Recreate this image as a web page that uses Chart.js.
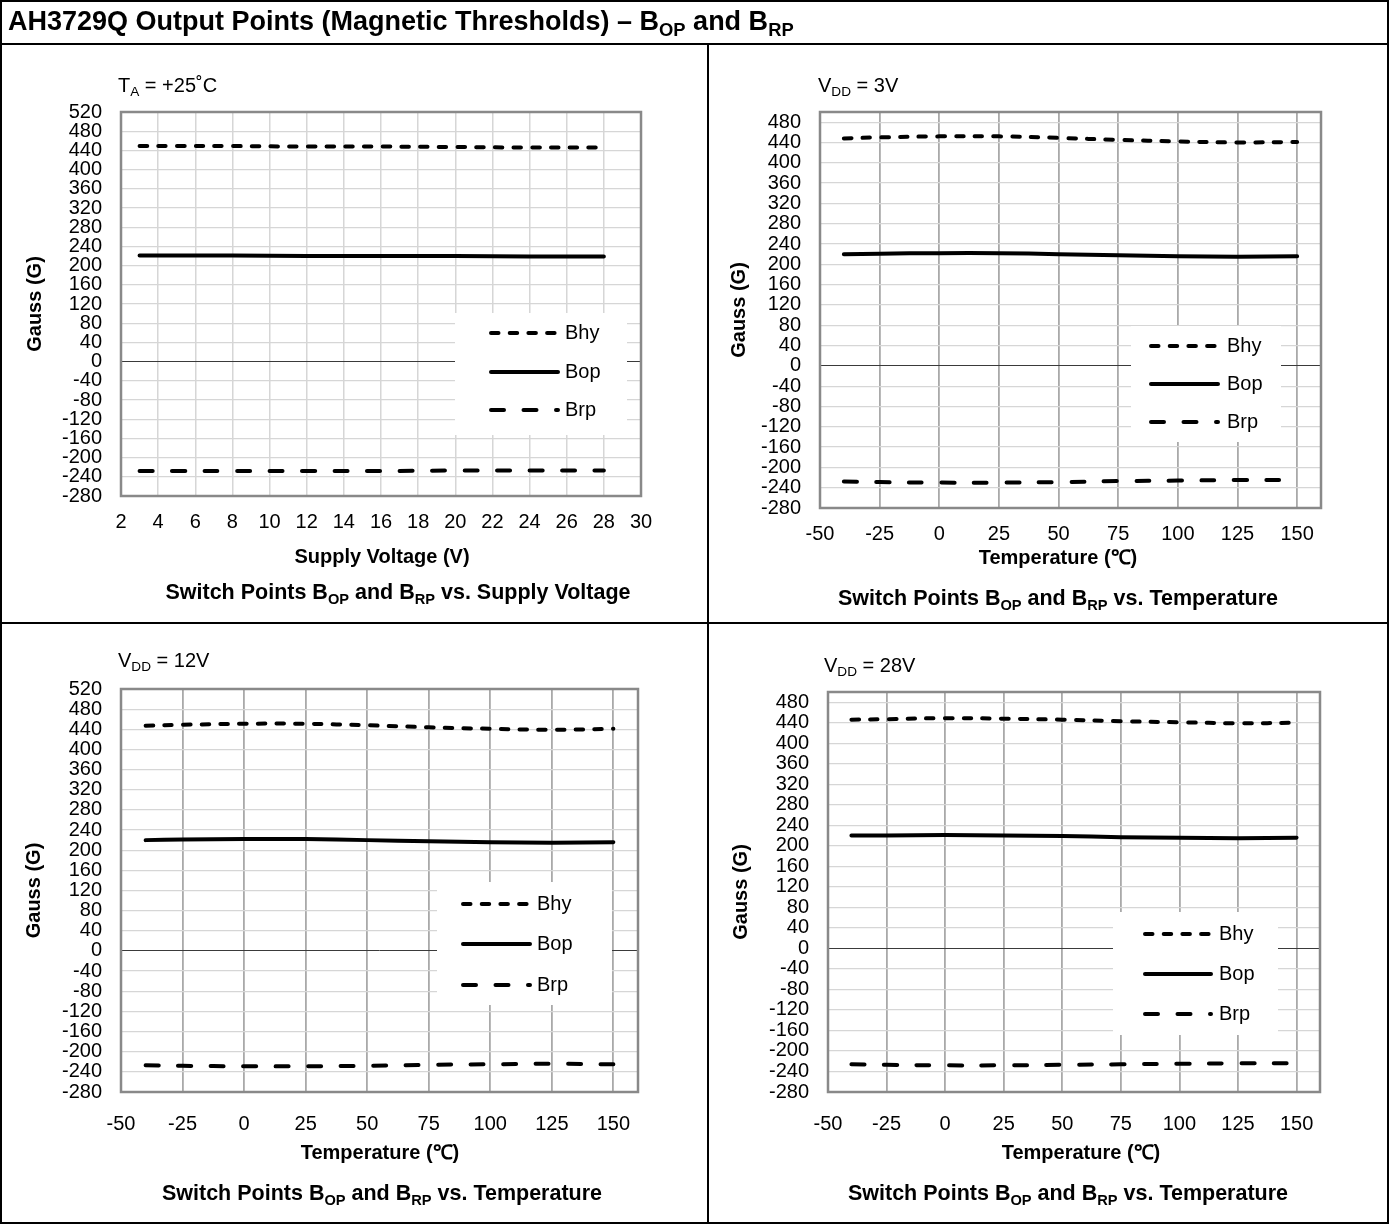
<!DOCTYPE html>
<html><head><meta charset="utf-8">
<script src="https://cdn.jsdelivr.net/npm/chart.js@4/dist/chart.umd.min.js"></script>
<style>
html,body{margin:0;padding:0;background:#fff;}
body{width:1389px;height:1224px;position:relative;overflow:hidden;font-family:"Liberation Sans",Arial,sans-serif;color:#000;}
.ln{position:absolute;background:#000;}
.txt{position:absolute;white-space:nowrap;line-height:1;}
.c{text-align:center;width:700px;}
.b{font-weight:bold;}
.cap{font-size:21.5px;}
sub{font-size:68%;vertical-align:baseline;position:relative;top:0.32em;}
canvas{position:absolute;left:0;top:0;}
</style></head><body>
<canvas id="c1" width="1389" height="1224"></canvas>
<canvas id="c2" width="1389" height="1224"></canvas>
<canvas id="c3" width="1389" height="1224"></canvas>
<canvas id="c4" width="1389" height="1224"></canvas>

<div class="ln" style="left:0;top:0;width:1389px;height:2px"></div>
<div class="ln" style="left:0;top:1222px;width:1389px;height:2px"></div>
<div class="ln" style="left:0;top:0;width:2px;height:1224px"></div>
<div class="ln" style="left:1387px;top:0;width:2px;height:1224px"></div>
<div class="ln" style="left:0;top:43px;width:1389px;height:2px"></div>
<div class="ln" style="left:0;top:622px;width:1389px;height:2px"></div>
<div class="ln" style="left:707px;top:44px;width:2px;height:1180px"></div>

<div class="txt b" style="left:8px;top:8px;font-size:27px">AH3729Q Output Points (Magnetic Thresholds) – B<sub>OP</sub> and B<sub>RP</sub></div>

<div class="txt" style="left:118px;top:75px;font-size:20px">T<sub>A</sub> = +25˚C</div>
<div class="txt" style="left:818px;top:75px;font-size:20px">V<sub>DD</sub> = 3V</div>
<div class="txt" style="left:118px;top:650px;font-size:20px">V<sub>DD</sub> = 12V</div>
<div class="txt" style="left:824px;top:655px;font-size:20px">V<sub>DD</sub> = 28V</div>

<div class="txt b c" style="left:32px;top:546px;font-size:20px">Supply Voltage (V)</div>
<div class="txt b c cap" style="left:48px;top:582px">Switch Points B<sub>OP</sub> and B<sub>RP</sub> vs. Supply Voltage</div>
<div class="txt b c" style="left:708px;top:547px;font-size:20px">Temperature (℃)</div>
<div class="txt b c cap" style="left:708px;top:588px">Switch Points B<sub>OP</sub> and B<sub>RP</sub> vs. Temperature</div>
<div class="txt b c" style="left:30px;top:1142px;font-size:20px">Temperature (℃)</div>
<div class="txt b c cap" style="left:32px;top:1183px">Switch Points B<sub>OP</sub> and B<sub>RP</sub> vs. Temperature</div>
<div class="txt b c" style="left:731px;top:1142px;font-size:20px">Temperature (℃)</div>
<div class="txt b c cap" style="left:718px;top:1183px">Switch Points B<sub>OP</sub> and B<sub>RP</sub> vs. Temperature</div>

<script>
// ---------- data ----------
const seriesNames = ['Bhy', 'Bop', 'Brp'];

// Panel 1: TA = +25°C, vs supply voltage
const voltage = [3, 5, 8, 12, 16, 20, 24, 28];
const p1Bhy = [449, 449, 449, 448, 448, 447, 446, 446];
const p1Bop = [221, 221, 221, 220, 220, 220, 219, 219];
const p1Brp = [-228, -228, -228, -228, -228, -227, -227, -227];

// Panels 2-4: vs temperature
const temperature = [-40, -25, 0, 25, 50, 75, 100, 125, 150];
// VDD = 3V
const p2Bhy = [448, 450, 452, 452, 449, 445, 442, 440, 441];
const p2Bop = [220, 221, 222, 222, 220, 218, 216, 215, 216];
const p2Brp = [-228, -229, -230, -230, -229, -227, -226, -225, -225];
// VDD = 12V
const p3Bhy = [447, 449, 451, 451, 448, 444, 441, 439, 441];
const p3Bop = [220, 221, 222, 222, 220, 218, 216, 215, 216];
const p3Brp = [-227, -228, -229, -229, -228, -226, -225, -224, -225];
// VDD = 28V
const p4Bhy = [446, 447, 449, 448, 446, 443, 441, 439, 440];
const p4Bop = [220, 220, 221, 220, 219, 217, 216, 215, 216];
const p4Brp = [-226, -227, -228, -228, -227, -226, -225, -224, -224];

// axis ranges / tick steps
const voltAxis = {min: 2, max: 30, step: 2};
const tempAxis = {min: -50, max: 160, step: 25};
const gaussAxisA = {min: -280, max: 520, step: 40};
const gaussAxisB = {min: -280, max: 500, step: 40};

// ---------- helpers ----------
const FONT = '"Liberation Sans", Arial, sans-serif';
Chart.defaults.font.family = FONT;
Chart.defaults.color = '#000';

const styles = [
  {borderDash: [7.5, 11.2]},
  {borderDash: []},
  {borderDash: [13, 19.5]}
];

function pts(xs, ys) { return xs.map((x, i) => ({x: x, y: ys[i]})); }

const framePlugin = {
  id: 'frame',
  beforeDatasetsDraw(chart) {
    const a = chart.chartArea, ctx = chart.ctx;
    ctx.save();
    ctx.strokeStyle = '#898989';
    ctx.lineWidth = 2.5;
    ctx.strokeRect(a.left, a.top, a.right - a.left, a.bottom - a.top);
    ctx.restore();
  }
};

const legendPlugin = {
  id: 'boxLegend',
  afterDatasetsDraw(chart, args, o) {
    const ctx = chart.ctx;
    ctx.save();
    ctx.fillStyle = '#fff';
    ctx.fillRect(o.box[0], o.box[1], o.box[2] - o.box[0], o.box[3] - o.box[1]);
    chart.data.datasets.forEach((ds, i) => {
      const y = o.rows[i];
      ctx.beginPath();
      ctx.setLineDash(ds.borderDash || []);
      ctx.lineCap = ds.borderCapStyle || 'butt';
      ctx.lineWidth = ds.borderWidth;
      ctx.strokeStyle = ds.borderColor;
      ctx.moveTo(o.x0, y);
      ctx.lineTo(o.x1, y);
      ctx.stroke();
      ctx.setLineDash([]);
      ctx.fillStyle = '#000';
      ctx.font = '20px ' + FONT;
      ctx.textBaseline = 'middle';
      ctx.textAlign = 'left';
      ctx.fillText(ds.label, o.tx, y);
    });
    ctx.restore();
  }
};

function makeChart(id, p) {
  const W = 1389, H = 1224;
  const xH = 44;
  const datasets = p.series.map((ys, i) => ({
    label: seriesNames[i],
    data: pts(p.xs, ys),
    borderColor: '#000',
    borderWidth: 4,
    borderDash: styles[i].borderDash,
    borderCapStyle: 'round',
    pointRadius: 0,
    tension: 0.35,
    fill: false
  }));
  return new Chart(document.getElementById(id), {
    type: 'line',
    data: {datasets: datasets},
    plugins: [framePlugin, legendPlugin],
    options: {
      responsive: false,
      animation: false,
      events: [],
      layout: {padding: {left: p.titleX - 12, top: p.T, right: W - p.R, bottom: H - p.B - xH}},
      plugins: {
        legend: {display: false},
        tooltip: {enabled: false},
        boxLegend: p.legend
      },
      scales: {
        x: {
          type: 'linear',
          min: p.xAxis.min, max: p.xAxis.max,
          afterFit(s) { s.height = xH; },
          ticks: {stepSize: p.xAxis.step, includeBounds: false, padding: p.xPad, maxRotation: 0, autoSkip: false,
                  font: {size: 20}, color: '#000'},
          grid: {color: p.vGrid, lineWidth: p.vGridW, drawTicks: false},
          border: {display: false}
        },
        y: {
          type: 'linear',
          min: p.yAxis.min, max: p.yAxis.max,
          afterFit(s) { s.width = p.L - (p.titleX - 12); },
          ticks: {stepSize: p.yAxis.step, includeBounds: false, padding: 19, autoSkip: false,
                  font: {size: 20}, color: '#000'},
          grid: {
            color: c => (c.tick && c.tick.value === 0) ? '#3a3a3a' : '#d6d6d6',
            lineWidth: c => (c.tick && c.tick.value === 0) ? 1 : 1.3,
            drawTicks: false
          },
          border: {display: false},
          title: {display: true, text: 'Gauss (G)', font: {size: 20, weight: 'bold'}, color: '#000', padding: 0}
        }
      }
    }
  });
}

makeChart('c1', {
  xs: voltage, series: [p1Bhy, p1Bop, p1Brp], xAxis: voltAxis, yAxis: gaussAxisA,
  L: 121, R: 641, T: 112, B: 496, titleX: 35, xPad: 14, vGrid: '#d6d6d6', vGridW: 1.5,
  legend: {box: [455, 313, 627, 435], rows: [333, 372, 410], x0: 491, x1: 558, tx: 565}
});
makeChart('c2', {
  xs: temperature, series: [p2Bhy, p2Bop, p2Brp], xAxis: tempAxis, yAxis: gaussAxisB,
  L: 820, R: 1321, T: 112, B: 508, titleX: 739, xPad: 14, vGrid: '#a9a9a9', vGridW: 1.8,
  legend: {box: [1131, 326, 1281, 442], rows: [346, 384, 422], x0: 1151, x1: 1218, tx: 1227}
});
makeChart('c3', {
  xs: temperature, series: [p3Bhy, p3Bop, p3Brp], xAxis: tempAxis, yAxis: gaussAxisA,
  L: 121, R: 638, T: 689, B: 1092, titleX: 34, xPad: 20, vGrid: '#a9a9a9', vGridW: 1.8,
  legend: {box: [437, 882, 612, 1005], rows: [904, 944, 985], x0: 463, x1: 530, tx: 537}
});
makeChart('c4', {
  xs: temperature, series: [p4Bhy, p4Bop, p4Brp], xAxis: tempAxis, yAxis: gaussAxisB,
  L: 828, R: 1320, T: 692, B: 1092, titleX: 741, xPad: 20, vGrid: '#a9a9a9', vGridW: 1.8,
  legend: {box: [1113, 912, 1278, 1035], rows: [934, 974, 1014], x0: 1145, x1: 1211, tx: 1219}
});
</script>
</body></html>
